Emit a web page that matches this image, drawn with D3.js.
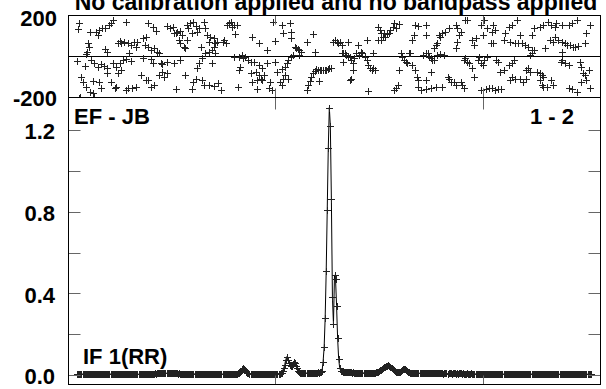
<!DOCTYPE html>
<html><head><meta charset="utf-8">
<script src="https://cdn.jsdelivr.net/npm/d3@7"></script>
<style>body{margin:0;background:#fff}text{font-family:"Liberation Sans",Arial,sans-serif;font-weight:bold;fill:#000}</style>
</head><body><svg id="c" width="606" height="389"></svg>
<script>
const title = "No calibration applied and no bandpass applied";
const baselineLabel = "EF - JB";
const corrLabel = "1 - 2";
const ifLabel = "IF 1(RR)";
const phaseTicks = [200, -200];
const phaseTickLabels = ["200", "-200"];
const ampTicks = [0.0, 0.4, 0.8, 1.2];
const ampMinorTicks = [0, 0.2, 0.4, 0.6, 0.8, 1.0, 1.2];
const chanTicks = [200, 400];
const firstChan = 9;
const amp = [
.004,.005,.004,.005,.006,.005,.004,.005,.005,.004,
.005,.006,.005,.004,.005,.005,.006,.005,.004,.005,
.005,.004,.005,.006,.005,.005,.004,.005,.006,.005,
.004,.005,.005,.006,.005,.004,.005,.005,.006,.005,
.005,.004,.005,.005,.006,.005,.005,.004,.005,.006,
.005,.005,.004,.005,.006,.005,.005,.006,.005,.004,
.005,.006,.005,.005,.004,.005,.006,.005,.005,.006,
.005,.006,.007,.006,.007,.008,.007,.008,.009,.008,
.009,.010,.009,.010,.011,.010,.009,.010,.011,.010,
.010,.009,.010,.009,.008,.009,.008,.007,.008,.007,
.006,.007,.006,.005,.006,.005,.006,.005,.004,.005,
.006,.005,.005,.006,.005,.004,.005,.006,.005,.005,
.006,.005,.005,.006,.005,.004,.005,.006,.005,.005,
.006,.005,.004,.005,.006,.005,.005,.004,.005,.006,
.005,.005,.006,.005,.004,.005,.006,.005,.005,.006,
.005,.006,.005,.006,.007,.008,.010,.015,.022,.030,
.033,.030,.024,.017,.012,.009,.007,.006,.006,.005,
.006,.005,.006,.005,.006,.007,.006,.005,.006,.005,
.006,.005,.006,.007,.006,.005,.006,.005,.006,.007,
.006,.005,.006,.005,.006,.006,.008,.012,.020,.035,
.050,.075,.090,.075,.060,.048,.042,.045,.055,.062,
.058,.045,.032,.022,.015,.012,.010,.010,.011,.010,
.011,.010,.011,.010,.011,.012,.011,.012,.011,.012,
.011,.012,.013,.012,.013,.015,.020,.065,.135,.280,
.510,.810,1.110,1.310,1.220,.860,.380,.250,.490,.470,
.340,.180,.080,.035,.020,.018,.016,.015,.016,.014,
.015,.014,.013,.014,.013,.012,.013,.012,.011,.012,
.011,.012,.011,.010,.011,.010,.011,.010,.010,.011,
.010,.011,.010,.010,.011,.010,.011,.012,.013,.015,
.017,.020,.023,.026,.030,.034,.038,.041,.044,.046,
.047,.045,.040,.034,.028,.023,.019,.016,.014,.013,
.013,.015,.019,.024,.028,.030,.029,.025,.020,.016,
.013,.012,.011,.010,.011,.010,.009,.010,.009,.010,
.009,.010,.009,.008,.009,.010,.009,.008,.009,.008,
.009,.008,.009,.010,.009,.008,.009,.008,.009,.008,
.008,.009,.008,.007,.008,.009,.008,.007,.008,.009,
.008,.007,.008,.009,.008,.007,.008,.007,.008,.009,
.008,.007,.008,.007,.006,.007,.008,.007,.006,.007,
.008,.007,.006,.007,.006,.007,.006,.007,.006,.007,
.006,.007,.006,.005,.006,.007,.006,.005,.006,.007,
.006,.005,.006,.005,.006,.005,.004,.005,.006,.005,
.004,.005,.006,.005,.004,.005,.006,.005,.004,.005,
.005,.004,.005,.006,.005,.004,.005,.004,.005,.006,
.005,.004,.005,.004,.005,.006,.005,.004,.005,.004,
.005,.004,.005,.006,.005,.004,.005,.004,.003,.004,
.005,.004,.003,.004,.005,.004,.003,.004,.005,.004,
.003,.004,.005,.004,.003,.004,.005,.004,.003,.004,
.004,.003,.004,.005,.004,.003,.004,.003,.004,.005,
.004,.003,.004,.003,.004,.005,.004,.003,.004,.003,
.004,.003,.004,.005,.004,.003];
const phasePts = [
[10,130],[11,163],[9,-25],[11,-200],[12,-198],[13,-100],
[16,-48],[14,-124],[18,22],[17,11],[19,62],[17,-151],[21,119],
[20,43],[22,-18],[24,-119],[21,-172],[24,-180],[25,-35],[27,119],[25,-196],
[29,103],[30,127],[29,-51],[30,-124],[32,-38],[33,135],[32,-156],[35,-48],[36,135],[36,33],
[38,22],[38,-59],[40,152],[41,163],[43,176],[41,-124],[43,-35],[38,-83],[45,-156],
[46,-51],[48,62],[46,-148],[50,75],[50,-35],[51,62],[48,-83],[53,-20],[51,-67],[54,70],[56,168],[56,-15],[56,-164],
[58,62],[58,-156],[59,14],[61,54],[61,-22],[62,-156],[64,70],[66,46],[66,-148],[67,70],
[70,-91],[72,87],[72,-10],[74,54],[75,95],[75,-116],[77,163],[77,46],[77,-116],
[80,30],[80,-15],[80,-148],[82,143],[82,-35],[83,38],[83,-140],[85,124],[86,22],[88,17],[88,-91],[90,-35],
[91,-38],[91,-75],[95,147],[95,-27],[95,-83],[93,-100],[98,135],[101,143],
[102,114],[102,-35],[104,111],[104,-161],[105,119],[107,79],[108,124],[108,62],[108,-19],[110,103],[112,46],[113,38],[113,-91],[115,152],[115,79],[116,135],[118,160],[120,111],[120,-161],[121,168],[121,-124],[123,147],[123,-108],[124,119],[124,-59],[126,135],[126,-35],[128,46],[129,-10],[129,-116],[131,168],[131,-140],[132,135],[132,14],[134,103],[136,70],[136,22],[136,-140],[137,95],[139,30],[139,-35],[141,87],[141,46],[141,-145],[142,62],[142,14],[144,70],[145,-132],[148,-164],[149,70],[150,79],[152,62],[153,152],[155,160],[157,168],[158,143],[160,152],[160,-2],[161,108],[163,152],[164,-148],[165,-2],[165,-67],[166,-51],[168,6],[169,-10],[171,-2],[174,-19],[176,-27],[176,-83],[177,95],[177,-124],[179,-27],[181,-75],[182,-116],[182,-161],[184,66],[184,-43],[184,-91],[186,-108],[187,-59],[187,-116],[189,-91],[192,30],[192,-35],[194,-156],[195,-124],[197,-164],[198,168],[200,75],[200,-27],[202,-75],
[204,-124],[206,152],[206,-64],[206,-140],[207,111],[207,-108],[209,-51],[209,-91],[211,-35],[212,-19],[212,-112],[214,163],[215,119],[215,87],[215,-2],[217,6],[219,46],[220,38],[222,33],[223,30],[223,6],[225,22],[230,70],[230,-164],[231,-140],[233,-119],[234,-100],[236,-83],[236,108],[238,-70],[238,22],[239,-64],[241,-67],[242,-119],[243,-67],[244,-67],[246,-67],[248,-67],[249,-67],[251,-64],[252,-59],[254,-59],[256,70],[257,79],[259,70],[260,62],[262,70],[264,54],[264,14],[265,17],[265,-27],[267,14],[268,6],[270,70],[270,-2],[272,-2],[272,-116],[273,-19],[273,-108],[275,-35],[275,-67],[276,-10],[278,14],[280,54],[281,6],[283,22],[284,14],[286,-2],[288,-19],[288,79],[289,-43],[289,-167],[291,-59],[293,-67],[294,-59],[294,14],[296,-67],[299,143],[299,79],[301,127],[302,111],[302,79],[304,95],[305,111],
[306,95],[308,108],[310,114],[311,127],[313,143],[314,160],[314,-164],[316,135],[316,-156],[318,-140],[319,156],[319,-67],[321,14],[322,-2],[324,-19],[326,-27],[327,-35],[329,14],[330,17],[332,79],[332,-43],[334,103],[335,152],[335,-67],[337,-100],[338,147],[338,-116],[338,-148],[340,-164],[342,6],[345,152],[345,103],[345,17],[345,-116],[345,-161],[347,14],[348,-2],[350,-10],[350,-75],[350,-156],[351,-19],[353,38],[353,-19],[355,54],[355,-148],[356,62],[356,6],[358,103],[359,95],[359,11],[361,111],[361,-151],[363,6],[364,119],[366,-100],[367,135],[367,-108],[369,-124],[372,-124],[374,152],[374,38],[374,-140],[375,135],[375,70],[377,103],[379,119],[379,-124],[380,-140],[382,-19],[382,-156],[383,176],[383,-10],[385,176],[385,-27],[387,-35],[390,79],[390,-59],[392,54],[392,-100],[393,87],[395,-19],[396,-2],[398,152],[398,-32],[398,-164],[400,103],[400,-43],[401,176],[401,-19],[403,-161],[404,135],[404,-2],[406,-156],[408,62],
[409,119],[409,-156],[410,152],[410,62],[412,127],[412,-164],[413,-19],[415,-27],[415,-161],[417,-75],[418,-161],[420,79],[420,-67],[421,111],[425,143],[425,-43],[426,70],[426,-116],[428,152],[428,-35],[428,-100],[430,-19],[431,62],[431,-108],[433,176],[434,62],[436,103],[436,-108],[438,62],[439,-124],[441,54],[442,-67],[442,-108],[444,46],[444,-59],[446,6],[446,-75],[447,103],[447,14],[447,30],[449,135],[449,30],[452,-75],[455,143],[455,-83],[455,-116],[457,-91],[457,-140],[458,152],[458,-100],[458,-148],[460,38],[462,-148],[463,168],[465,79],[466,152],[466,-116],[468,70],[468,-140],[470,143],[470,95],[471,160],[473,79],[475,-27],[476,152],[476,70],[476,-19],[476,22],[479,62],[479,-35],[481,54],[483,152],[483,-43],[483,-156],[484,54],[486,160],[486,-161],[487,46],[489,46],[491,176],[491,-172],[492,49],[494,-27],[495,-51],[495,-124],[497,-83],[499,62],[499,-91],[500,111],[500,-116],[502,-67],[503,152],[503,-156]];

const svg = d3.select("#c");
svg.append("rect").attr("width",606).attr("height",389).attr("fill","#fff");
const L = 68.5, R = 600.5, T = 15.5, M = 97.5, B = 384.5;
const x = d3.scaleLinear().domain([0, 514]).range([68, 601]);
const yP = d3.scaleLinear().domain([-200, 200]).range([97.5, 15]);
const yA = d3.scaleLinear().domain([0, 1.2]).range([375, 130]);
const px = v => Math.round(v) + 0.5;

const defs = svg.append("defs");
defs.append("clipPath").attr("id","cp").append("rect").attr("x",L).attr("y",T).attr("width",R-L).attr("height",M-T);
defs.append("clipPath").attr("id","ca").append("rect").attr("x",L).attr("y",M).attr("width",R-L).attr("height",B-M);

const plus = "M-3.5,0H3.5M0,-3.5V3.5";
// phase panel
const gp = svg.append("g").attr("clip-path","url(#cp)");
gp.append("line").attr("x1",L).attr("x2",R).attr("y1",px(yP(0))).attr("y2",px(yP(0))).attr("stroke","#000");
gp.selectAll("path.p").data(phasePts).join("path").attr("class","p")
  .attr("d",plus).attr("transform",d=>`translate(${px(x(d[0]))},${px(yP(d[1]))})`)
  .attr("stroke","#222").attr("stroke-width",1).attr("fill","none");

// amplitude panel
const ampData = amp.map((v,i)=>[firstChan+i, v]);
const ga = svg.append("g").attr("clip-path","url(#ca)");
ga.append("path").datum(ampData).attr("d", d3.line().x(d=>x(d[0])).y(d=>yA(d[1])))
  .attr("stroke","#000").attr("stroke-width",1).attr("fill","none");
ga.selectAll("path.a").data(ampData).join("path").attr("class","a")
  .attr("d",plus).attr("transform",d=>`translate(${px(x(d[0]))},${px(yA(d[1]))})`)
  .attr("stroke","#222").attr("stroke-width",1).attr("fill","none");

// ticks
const tk = "#666";
ampMinorTicks.forEach(v=>{
  const yy = px(yA(v));
  svg.append("line").attr("x1",L).attr("x2",L+12).attr("y1",yy).attr("y2",yy).attr("stroke",tk);
  svg.append("line").attr("x1",R).attr("x2",R-12).attr("y1",yy).attr("y2",yy).attr("stroke",tk);
});
chanTicks.forEach(c=>{
  const xx = px(x(c));
  svg.append("line").attr("x1",xx).attr("x2",xx).attr("y1",B).attr("y2",B-9).attr("stroke",tk);
  svg.append("line").attr("x1",xx).attr("x2",xx).attr("y1",M).attr("y2",M+12).attr("stroke",tk);
  svg.append("line").attr("x1",xx).attr("x2",xx).attr("y1",M).attr("y2",M-9).attr("stroke",tk);
  svg.append("line").attr("x1",xx).attr("x2",xx).attr("y1",T).attr("y2",T+9).attr("stroke",tk);
});

// frames
svg.append("rect").attr("x",L).attr("y",T).attr("width",R-L).attr("height",M-T).attr("fill","none").attr("stroke","#000");
svg.append("rect").attr("x",L).attr("y",M).attr("width",R-L).attr("height",B-M).attr("fill","none").attr("stroke","#000");

// labels
const fs = 22;
phaseTicks.forEach((v,i)=>{
  svg.append("text").attr("x",57).attr("y",yP(v)+(v>0?3:0)+8).attr("text-anchor","end").attr("font-size",fs).text(phaseTickLabels[i]);
});
ampTicks.forEach(v=>{
  svg.append("text").attr("x",55).attr("y",yA(v)+9.4).attr("text-anchor","end").attr("font-size",fs).text(d3.format(".1f")(v));
});
svg.append("text").attr("x",336).attr("y",10).attr("text-anchor","middle").attr("font-size",23).text(title);
svg.append("text").attr("x",74).attr("y",124).attr("font-size",fs).text(baselineLabel);
svg.append("text").attr("x",574).attr("y",124).attr("text-anchor","end").attr("font-size",fs).text(corrLabel);
svg.append("text").attr("x",83).attr("y",364).attr("font-size",fs).text(ifLabel);
</script></body></html>
